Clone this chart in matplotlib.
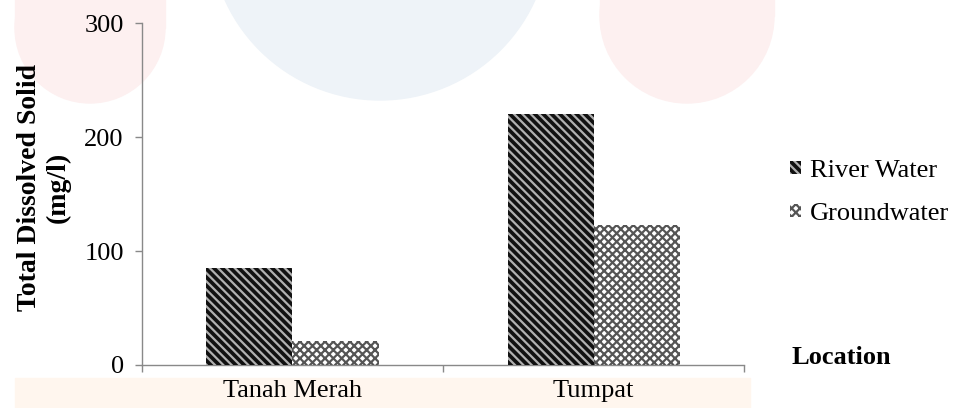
import matplotlib
matplotlib.use("Agg")
import matplotlib.pyplot as plt
from matplotlib.patches import Circle, Rectangle
import numpy as np

# ── Data ───────────────────────────────────────────────────────────────────────
locations = ["Tanah Merah", "Tumpat"]
series_names = ["River Water", "Groundwater"]
river_water = [85, 220]
groundwater = [21, 123]
y_ticks = [0, 100, 200, 300]

# ── Style ──────────────────────────────────────────────────────────────────────
plt.rcParams["font.family"] = ["Liberation Serif", "DejaVu Serif"]
plt.rcParams["hatch.linewidth"] = 1.6
AXIS_GREY = "#898989"
FS = 19

fig = plt.figure(figsize=(9.58, 4.08), dpi=100)
ax = fig.add_axes([0.148, 0.1054, 0.629, 0.8382])
ax.patch.set_alpha(0)

# ── Faint page watermark shapes behind the chart (pixel coords -> inches) ─────
def px(x, y):
    return x / 100, (408 - y) / 100

tr = fig.dpi_scale_trans
PINK, BLUE, PEACH = "#fdf0f0", "#eef3f8", "#fff6ee"
fig.patches.append(Circle(px(90, 28), 0.75, transform=tr, color=PINK, zorder=-5))
fig.patches.append(Rectangle(px(15, 28), 1.50, 0.30, transform=tr, color=PINK, zorder=-5))
fig.patches.append(Circle(px(380, -70), 1.70, transform=tr, color=BLUE, zorder=-5))
fig.patches.append(Circle(px(687, 16), 0.87, transform=tr, color=PINK, zorder=-5))
fig.patches.append(Rectangle(px(600, 16), 1.74, 0.20, transform=tr, color=PINK, zorder=-5))
fig.patches.append(Rectangle(px(15, 408), 7.35, 0.30, transform=tr, color=PEACH, zorder=-5))

# ── Bars ───────────────────────────────────────────────────────────────────────
x = np.arange(len(locations))
w = 0.286
ax.bar(x - w / 2, river_water, w, facecolor="#111111", edgecolor="#b0b0b0",
       hatch="\\\\\\\\", linewidth=0, label=series_names[0], zorder=3)
ax.bar(x + w / 2, groundwater, w, facecolor="white", edgecolor="#555555",
       hatch="xxxx", linewidth=0, label=series_names[1], zorder=3)

# ── Axes ───────────────────────────────────────────────────────────────────────
ax.set_xlim(-0.5, len(locations) - 0.5)
ax.set_ylim(0, 300)
ax.set_yticks(y_ticks)
ax.set_xticks(x)
ax.set_xticklabels(locations, fontsize=FS)
ax.set_xticks(np.arange(len(locations) + 1) - 0.5, minor=True)
ax.tick_params(axis="x", which="major", length=0, pad=11)
ax.tick_params(axis="x", which="minor", length=5, color=AXIS_GREY, width=1)
ax.tick_params(axis="y", labelsize=FS, length=5, color=AXIS_GREY, width=1, pad=8)

for side in ["top", "right"]:
    ax.spines[side].set_visible(False)
for side in ["left", "bottom"]:
    ax.spines[side].set_color(AXIS_GREY)
    ax.spines[side].set_linewidth(1)

fig.text(44 / 958, 1 - 187 / 408, "Total Dissolved Solid\n(mg/l)", rotation=90,
         fontsize=20, fontweight="bold", ha="center", va="center", linespacing=1.15)
fig.text(792 / 958, 1 - 358 / 408, "Location", fontsize=FS, fontweight="bold",
         ha="left", va="center")

ax.legend(loc="upper left", bbox_to_anchor=(790 / 958, 1 - 160 / 408),
          bbox_transform=fig.transFigure, frameon=False, fontsize=FS,
          handlelength=0.4, handleheight=0.4, handletextpad=0.35,
          labelspacing=0.8, borderpad=0, borderaxespad=0)

fig.savefig("out.png", dpi=100)
